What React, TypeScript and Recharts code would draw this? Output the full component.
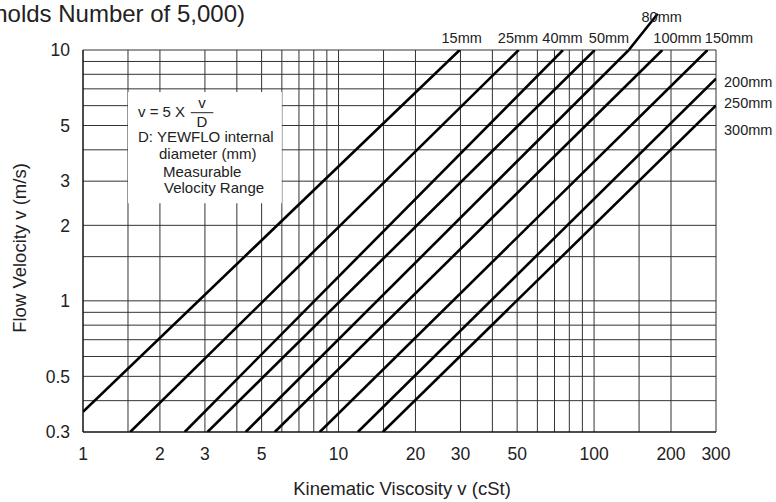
import { CartesianGrid, Line, LineChart, ReferenceArea, ReferenceLine, XAxis, YAxis } from 'recharts';

// pipe sizes and the two ends of each line (viscosity cSt, velocity m/s)
const sizes = ['15mm', '25mm', '40mm', '50mm', '80mm', '100mm', '150mm', '200mm', '250mm'];
const startNu = [1, 1.53, 2.5, 3.07, 4.33, 5.63, 8.44, 11.9, 14.9];
const startV = [0.361, 0.3, 0.3, 0.3, 0.3, 0.3, 0.3, 0.3, 0.3];
const endNu = [29.8, 50.7, 75.6, 100.6, 136.7, 185, 278, 300, 300];
const endV = [10, 10, 10, 10, 10, 10, 10, 7.69, 6.01];

// 80mm leader running above the plot to its label
const leaderNu = [136.7, 177.5];
const leaderV = [10, 13.95];

const xTicks = [1, 2, 3, 5, 10, 20, 30, 50, 100, 200, 300];
const yTicks = [0.3, 0.5, 1, 2, 3, 5, 10];
const xGrid = [1, 1.5, 2, 3, 4, 5, 6, 7, 8, 9, 10, 15, 20, 30, 40, 50, 60, 70, 80, 90, 100, 150, 200, 300];
const yGrid = [0.3, 0.4, 0.5, 0.6, 0.7, 0.8, 0.9, 1, 1.5, 2, 3, 4, 5, 6, 7, 8, 9, 10];

// white note box in data units
const boxNu = [1.5, 6];
const boxV = [2.45, 6.8];

const W = 776;
const H = 502;
const font = '"Liberation Sans", Arial, Helvetica, sans-serif';
const ink = '#222';

export default function App() {
  return (
    <div style={{ position: 'absolute', left: 0, top: 0, width: W, height: H, background: '#fff', fontFamily: font }}>
      <LineChart width={W} height={H} margin={{ top: 50, right: 60, bottom: 0, left: 0 }}>
        <CartesianGrid horizontalValues={yGrid} verticalValues={xGrid} stroke="#333" strokeWidth={1} />
        <XAxis
          type="number"
          dataKey="nu"
          scale="log"
          domain={[1, 300]}
          ticks={xTicks}
          interval={0}
          allowDataOverflow
          height={70}
          tickLine={false}
          axisLine={{ stroke: '#000' }}
          tickMargin={10}
          tick={{ fontSize: 17.5, fill: ink, fontFamily: font }}
        />
        <YAxis
          type="number"
          dataKey="v"
          scale="log"
          domain={[0.3, 10]}
          ticks={yTicks}
          interval={0}
          allowDataOverflow
          width={83}
          tickLine={false}
          axisLine={{ stroke: '#000' }}
          tickMargin={7}
          tick={{ fontSize: 17.5, fill: ink, fontFamily: font }}
        />
        <ReferenceArea
          x1={boxNu[0]}
          x2={boxNu[1]}
          y1={boxV[0]}
          y2={boxV[1]}
          fill="#fff"
          fillOpacity={1}
          stroke="none"
          ifOverflow="visible"
        />
        {sizes.map((s, i) => (
          <Line
            key={s}
            data={[
              { nu: startNu[i], v: startV[i] },
              { nu: endNu[i], v: endV[i] }
            ]}
            dataKey="v"
            stroke="#000"
            strokeWidth={2.6}
            dot={false}
            activeDot={false}
            isAnimationActive={false}
          />
        ))}
        <ReferenceLine
          segment={[
            { x: leaderNu[0], y: leaderV[0] },
            { x: leaderNu[1], y: leaderV[1] }
          ]}
          stroke="#000"
          strokeWidth={2.6}
          ifOverflow="visible"
        />
      </LineChart>
      <svg
        width={W}
        height={H}
        style={{ position: 'absolute', left: 0, top: 0, pointerEvents: 'none' }}
        fontFamily={font}
        fill={ink}
      >
        <text x={245} y={22} fontSize={24} textAnchor="end">(Reynolds Number of 5,000)</text>

        <text x={402} y={495} fontSize={18.5} textAnchor="middle">Kinematic Viscosity v (cSt)</text>
        <text x={26} y={248} fontSize={18.5} textAnchor="middle" transform="rotate(-90 26 248)">
          Flow Velocity v (m/s)
        </text>

        <g fontSize={14.5}>
          <text x={461.7} y={43.3} textAnchor="middle">15mm</text>
          <text x={518} y={43.3} textAnchor="middle">25mm</text>
          <text x={562.5} y={43.3} textAnchor="middle">40mm</text>
          <text x={609} y={43.3} textAnchor="middle">50mm</text>
          <text x={661.7} y={21.7} textAnchor="middle">80mm</text>
          <text x={677.5} y={43.3} textAnchor="middle">100mm</text>
          <text x={729} y={43.3} textAnchor="middle">150mm</text>
          <text x={724} y={86.7}>200mm</text>
          <text x={724} y={107.5}>250mm</text>
          <text x={724} y={135}>300mm</text>
        </g>

        <g fontSize={15}>
          <text x={138} y={117.3}>v = 5 X</text>
          <text x={202} y={108.3} textAnchor="middle">v</text>
          <line x1={190.7} x2={213.3} y1={112.7} y2={112.7} stroke={ink} strokeWidth={1} />
          <text x={202} y={126.7} textAnchor="middle">D</text>
          <text x={138} y={141.7}>D: YEWFLO internal</text>
          <text x={159} y={159}>diameter (mm)</text>
          <text x={163} y={176.7}>Measurable</text>
          <text x={164} y={193.3}>Velocity Range</text>
        </g>
      </svg>
    </div>
  );
}
